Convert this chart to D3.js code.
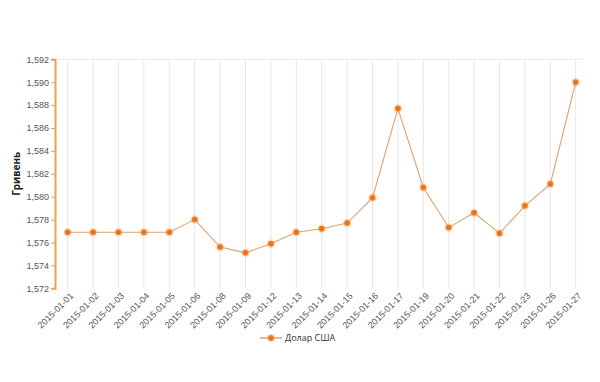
<!DOCTYPE html>
<html><head><meta charset="utf-8">
<script src="https://cdn.jsdelivr.net/npm/d3@7"></script>
<style>body{margin:0;background:#fff;}svg{display:block;font-family:"Open Sans","DejaVu Sans",sans-serif;}</style>
</head><body>
<svg id="c" width="600" height="382"></svg>
<script>
const categories = ["2015-01-01","2015-01-02","2015-01-03","2015-01-04","2015-01-05","2015-01-06","2015-01-08","2015-01-09","2015-01-12","2015-01-13","2015-01-14","2015-01-15","2015-01-16","2015-01-17","2015-01-19","2015-01-20","2015-01-21","2015-01-22","2015-01-23","2015-01-26","2015-01-27"];
const usdValues = [1.5769,1.5769,1.5769,1.5769,1.5769,1.5780,1.5756,1.5751,1.5759,1.5769,1.5772,1.5777,1.5799,1.5877,1.5808,1.5773,1.5786,1.5768,1.5792,1.5811,1.5900];
const yTicks = [1.572,1.574,1.576,1.578,1.580,1.582,1.584,1.586,1.588,1.590,1.592];
const seriesName = "Долар США";
const yTitle = "Гривень";

const svg = d3.select("#c");
const mL = 55, mR = 588.4, mT = 59.3, mB = 288.3;
const x = d3.scaleBand().domain(categories).range([mL, mR]);
const y = d3.scaleLinear().domain([1.572, 1.592]).range([mB, mT]);
const fmt = v => d3.format(".3f")(v).replace(".", ",");

// vertical grid
svg.append("g").selectAll("line").data(categories).join("line")
  .attr("x1", d => x(d) + x.bandwidth()/2).attr("x2", d => x(d) + x.bandwidth()/2)
  .attr("y1", mT).attr("y2", mB)
  .attr("stroke", "#e6e6e6").attr("stroke-width", 1);
// top grid line
svg.append("line").attr("x1", mL).attr("x2", 583).attr("y1", y(1.592)).attr("y2", y(1.592))
  .attr("stroke", "#ececec").attr("stroke-width", 1);

// y axis
const ya = svg.append("g").attr("transform", `translate(${mL},0)`)
  .call(d3.axisLeft(y).tickValues(yTicks).tickFormat(fmt).tickSize(4).tickPadding(2));
ya.select(".domain").attr("stroke", "#f0a050").attr("stroke-width", 2);
ya.selectAll(".tick line").attr("stroke", "#f0a050");
ya.selectAll("text").attr("fill", "#555").style("font-size", "9px");

// x axis labels
const xa = svg.append("g").attr("transform", `translate(0,${mB})`)
  .call(d3.axisBottom(x).tickSize(0).tickPadding(0));
xa.select(".domain").remove();
xa.selectAll("text").attr("fill", "#555").style("font-size", "9px")
  .attr("text-anchor", "end")
  .attr("transform", "translate(4,6) rotate(-45)")
  .attr("dy", "0.35em").attr("y", 0);

// y title
svg.append("text").attr("transform", `translate(20,${(mT+mB)/2}) rotate(-90)`)
  .attr("text-anchor", "middle").style("font-size", "10px").style("font-weight", "bold")
  .attr("fill", "#222").text(yTitle);

// line
const cx = d => x(d) + x.bandwidth()/2;
const data = categories.map((c,i) => ({c, v: usdValues[i]}));
svg.append("path").datum(data)
  .attr("d", d3.line().x(d => cx(d.c)).y(d => y(d.v)))
  .attr("fill", "none").attr("stroke", "#e0a070").attr("stroke-width", 1.1);
svg.append("g").selectAll("circle").data(data).join("circle")
  .attr("cx", d => cx(d.c)).attr("cy", d => y(d.v)).attr("r", 3)
  .attr("fill", "#e0701e").attr("stroke", "rgba(255,170,90,0.3)").attr("stroke-width", 3);

// legend
const lg = svg.append("g").attr("transform", "translate(260,338)");
lg.append("line").attr("x1", 0).attr("x2", 22).attr("y1", 0).attr("y2", 0)
  .attr("stroke", "#e0a070").attr("stroke-width", 1.5);
lg.append("circle").attr("cx", 11).attr("cy", 0).attr("r", 3)
  .attr("fill", "#e0701e").attr("stroke", "rgba(255,170,90,0.3)").attr("stroke-width", 3);
lg.append("text").attr("x", 25).attr("y", 0).attr("dy", "0.35em")
  .style("font-size", "9px").attr("fill", "#333").text(seriesName);
</script>
</body></html>
